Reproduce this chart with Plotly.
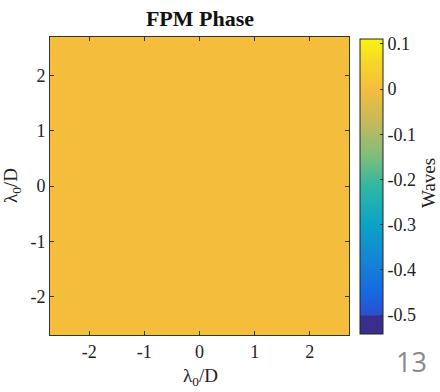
import plotly.graph_objects as go

# Data
x_coords = [-2.7, -1.35, 0.0, 1.35, 2.7]
y_coords = [-2.7, -1.35, 0.0, 1.35, 2.7]
phase_waves = [
    [0.0, 0.0, 0.0, 0.0, 0.0],
    [0.0, 0.0, 0.0, 0.0, 0.0],
    [0.0, 0.0, 0.0, 0.0, 0.0],
    [0.0, 0.0, 0.0, 0.0, 0.0],
    [0.0, 0.0, 0.0, 0.0, 0.0],
]
axis_ticks = [-2, -1, 0, 1, 2]
axis_labels = ["-2", "-1", "0", "1", "2"]
cbar_ticks = [0.1, 0, -0.1, -0.2, -0.3, -0.4, -0.5]
cbar_labels = ["0.1", "0", "-0.1", "-0.2", "-0.3", "-0.4", "-0.5"]

parula = [
    [0.0, "#3a2e8c"], [0.06, "#3a2e8c"], [0.065, "#2a4fd0"], [0.14, "#1669e0"],
    [0.25, "#1485d4"], [0.375, "#0ca3c6"], [0.5, "#30b7a2"], [0.6, "#7dbd7c"],
    [0.7, "#bcb960"], [0.83, "#f4be3c"], [0.92, "#f6d62a"], [1.0, "#f8f50f"],
]

FONT = "Liberation Serif, Times New Roman, serif"
W, H = 440, 392
L, R, T, B = 50, 91, 37, 57
PW, PH = W - L - R, H - T - B


def px(xp):
    return (xp - L) / PW


def py(yp):
    return (H - B - yp) / PH


fig = go.Figure(go.Heatmap(
    x=x_coords, y=y_coords, z=phase_waves,
    colorscale=parula, zmin=-0.542, zmax=0.111,
    colorbar=dict(
        x=px(360), xanchor="left", xref="paper", xpad=0, ypad=0,
        y=py(334), yanchor="bottom", len=295 / PH, lenmode="fraction",
        thickness=23, thicknessmode="pixels",
        outlinewidth=1, outlinecolor="#222",
        tickvals=cbar_ticks, ticktext=cbar_labels,
        ticks="inside", ticklen=3, tickcolor="#333",
        tickfont=dict(family=FONT, size=18, color="#222"),
    ),
    hoverinfo="skip",
))

axis_common = dict(
    ticks="inside", ticklen=4, tickcolor="#333",
    showline=True, linecolor="#333", linewidth=1, mirror="ticks",
    showgrid=False, zeroline=False,
    tickfont=dict(family=FONT, size=18, color="#222"),
)

fig.update_layout(
    width=W, height=H,
    margin=dict(l=L, r=R, t=T, b=B, autoexpand=False),
    paper_bgcolor="white", plot_bgcolor="white",
    title=dict(text="<b>FPM Phase</b>", x=200 / W, xanchor="center", y=1 - 18 / H, yanchor="middle",
               font=dict(family=FONT, size=22, color="#111")),
    xaxis=dict(range=[-2.71, 2.71], tickvals=axis_ticks, ticktext=axis_labels, **axis_common),
    yaxis=dict(range=[-2.69, 2.69], tickvals=axis_ticks, ticktext=axis_labels, **axis_common),
    annotations=[
        dict(text="λ<sub>0</sub>/D", x=px(200), y=py(377), xref="paper", yref="paper",
             showarrow=False, xanchor="center", yanchor="middle",
             font=dict(family=FONT, size=19, color="#222")),
        dict(text="λ<sub>0</sub>/D", x=px(12), y=py(186), xref="paper", yref="paper",
             showarrow=False, xanchor="center", yanchor="middle", textangle=-90,
             font=dict(family=FONT, size=19, color="#222")),
        dict(text="13", x=px(411), y=py(361), xref="paper", yref="paper",
             showarrow=False, xanchor="center", yanchor="middle",
             font=dict(family="Open Sans, sans-serif", size=27, color="#8a8a8a")),
        dict(text="Waves", x=px(428), y=py(183), xref="paper", yref="paper",
             showarrow=False, xanchor="center", yanchor="middle", textangle=-90,
             font=dict(family=FONT, size=19, color="#222")),
    ],
)

fig.write_html("out.html")
